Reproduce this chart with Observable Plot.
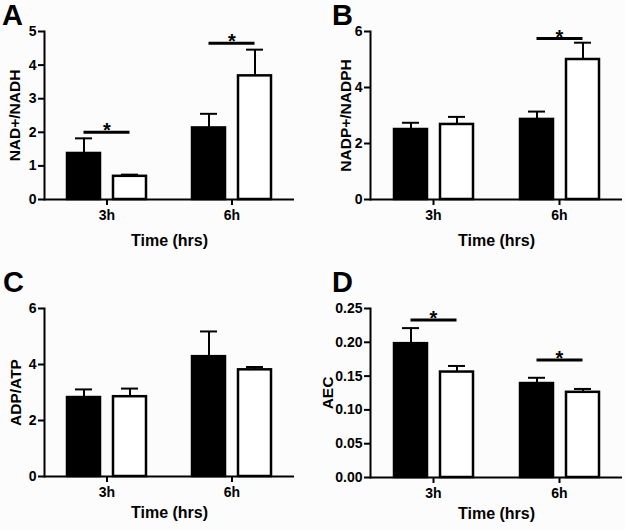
<!DOCTYPE html>
<html><head><meta charset="utf-8">
<script src="https://cdn.jsdelivr.net/npm/d3@7"></script>
<script src="https://cdn.jsdelivr.net/npm/@observablehq/plot@0.6"></script>
<style>
body{margin:0;background:#fcfcfc;font-family:"Liberation Sans",Arial,sans-serif;}
#wrap{position:relative;width:625px;height:530px;overflow:hidden;}
.panel{position:absolute;}
.letter{position:absolute;font-weight:bold;font-size:29px;line-height:29px;color:#000;}
svg{overflow:visible}
</style></head><body><div id="wrap"></div>
<script>
const times = ["3h", "6h"];
const groups = ["ctrl", "trt"];
const xTitle = "Time (hrs)";

// Panel A: NAD+/NADH  (order: 3h ctrl, 3h trt, 6h ctrl, 6h trt)
const nadMean = [1.37, 0.69, 2.13, 3.68];
const nadSem  = [0.45, 0.05, 0.42, 0.78];
const nadSig  = [{time: "3h", a: "ctrl", b: "trt", y: 2.0}, {time: "6h", a: "ctrl", b: "trt", y: 4.65}];
const nadTicks = [0, 1, 2, 3, 4, 5];

// Panel B: NADP+/NADPH
const nadpMean = [2.50, 2.68, 2.86, 5.00];
const nadpSem  = [0.24, 0.27, 0.28, 0.60];
const nadpSig  = [{time: "6h", a: "ctrl", b: "trt", y: 5.75}];
const nadpTicks = [0, 2, 4, 6];

// Panel C: ADP/ATP
const adpMean = [2.82, 2.85, 4.28, 3.81];
const adpSem  = [0.29, 0.29, 0.90, 0.10];
const adpSig  = [];
const adpTicks = [0, 2, 4, 6];

// Panel D: AEC
const aecMean = [0.198, 0.156, 0.139, 0.126];
const aecSem  = [0.023, 0.009, 0.0085, 0.005];
const aecSig  = [{time: "3h", a: "ctrl", b: "trt", y: 0.233}, {time: "6h", a: "ctrl", b: "trt", y: 0.174}];
const aecTicks = [0, 0.05, 0.10, 0.15, 0.20, 0.25];

function rows(mean, sem) {
  return mean.map((v, i) => ({time: times[Math.floor(i / 2)], group: groups[i % 2], value: v, err: v + sem[i]}));
}

const FONT = '"Liberation Sans", Arial, sans-serif';

function panel(cfg) {
  const data = rows(cfg.mean, cfg.sem);
  return Plot.plot({
    width: cfg.width, height: 265,
    marginLeft: cfg.ml, marginRight: cfg.mr, marginTop: cfg.mt, marginBottom: cfg.mb,
    style: {background: "transparent", fontFamily: FONT, color: "#000", overflow: "visible"},
    fx: {domain: times, padding: 0},
    x: {domain: groups, paddingInner: 0.29, paddingOuter: 0.5, axis: null},
    y: {domain: cfg.yDomain},
    color: {domain: groups, range: ["#000", "#fff"]},
    marks: [
      Plot.barY(data, {fx: "time", x: "group", y: "value", fill: "group", stroke: "#000", strokeWidth: 2.5}),
      Plot.ruleX(data, {fx: "time", x: "group", y1: "value", y2: "err", stroke: "#000", strokeWidth: 2}),
      Plot.tickY(data, {fx: "time", x: "group", y: "err", stroke: "#000", strokeWidth: 2, insetLeft: 8, insetRight: 8}),
      Plot.ruleY(cfg.sig, {fx: "time", y: "y", x1: "a", x2: "b", stroke: "#000", strokeWidth: 3, insetLeft: 16.5, insetRight: 16.5}),
      Plot.text(cfg.sig, {fx: "time", y: "y", text: () => "*", fontSize: 20, fontWeight: "bold", lineAnchor: "bottom", dy: 5}),
      Plot.ruleY([0], {stroke: "#000", strokeWidth: 2}),
      Plot.frame({anchor: "left", stroke: "#000", strokeWidth: 2, facetAnchor: "left"}),
      Plot.axisY({ticks: cfg.ticks, tickFormat: cfg.fmt, tickSize: 6, tickPadding: 2, stroke: "#000", strokeWidth: 2, fontSize: 14, fontWeight: "bold", label: null}),
      Plot.axisY({ticks: [], tickSize: 0, fontSize: 15.5, fontWeight: "bold", label: cfg.yLabel, labelAnchor: "center", labelArrow: false, labelOffset: cfg.lo}),
      Plot.axisFx({anchor: "bottom", tickSize: 6, tickPadding: 5, stroke: "#000", strokeWidth: 2, fontSize: 14, fontWeight: "bold", label: null}),
      Plot.axisFx({anchor: "bottom", ticks: [], tickSize: 0, fontSize: 16, fontWeight: "bold", label: xTitle, labelAnchor: "center", labelArrow: false, labelOffset: cfg.xo})
    ]
  });
}

const panels = [
  {letter: "A", left: 0, top: 0, lx: 2, ly: 0.5, width: 310, ml: 44, mr: 16, mt: 31, mb: 66, xo: 46, yDomain: [0, 5], ticks: nadTicks, fmt: d3.format("d"), yLabel: "NAD+/NADH", lo: 36, mean: nadMean, sem: nadSem, sig: nadSig},
  {letter: "B", left: 310, top: 0, lx: 332, ly: 0.5, width: 315, ml: 59, mr: 3, mt: 31, mb: 66, xo: 46, yDomain: [0, 6], ticks: nadpTicks, fmt: d3.format("d"), yLabel: "NADP+/NADPH", lo: 31, mean: nadpMean, sem: nadpSem, sig: nadpSig},
  {letter: "C", left: 0, top: 270, lx: 3, ly: 267.5, width: 310, ml: 43, mr: 16, mt: 38, mb: 59, xo: 41, yDomain: [0, 6], ticks: adpTicks, fmt: d3.format("d"), yLabel: "ADP/ATP", lo: 35, mean: adpMean, sem: adpSem, sig: adpSig},
  {letter: "D", left: 310, top: 270, lx: 332, ly: 267.5, width: 315, ml: 59, mr: 3, mt: 38, mb: 58, xo: 41, yDomain: [0, 0.25], ticks: aecTicks, fmt: d3.format(".2f"), yLabel: "AEC", lo: 49, mean: aecMean, sem: aecSem, sig: aecSig}
];

const wrap = document.getElementById("wrap");
for (const p of panels) {
  const div = document.createElement("div");
  div.className = "panel";
  div.style.left = p.left + "px";
  div.style.top = p.top + "px";
  div.appendChild(panel(p));
  wrap.appendChild(div);
  const l = document.createElement("div");
  l.className = "letter";
  l.style.left = p.lx + "px";
  l.style.top = p.ly + "px";
  l.textContent = p.letter;
  wrap.appendChild(l);
}
</script></body></html>
